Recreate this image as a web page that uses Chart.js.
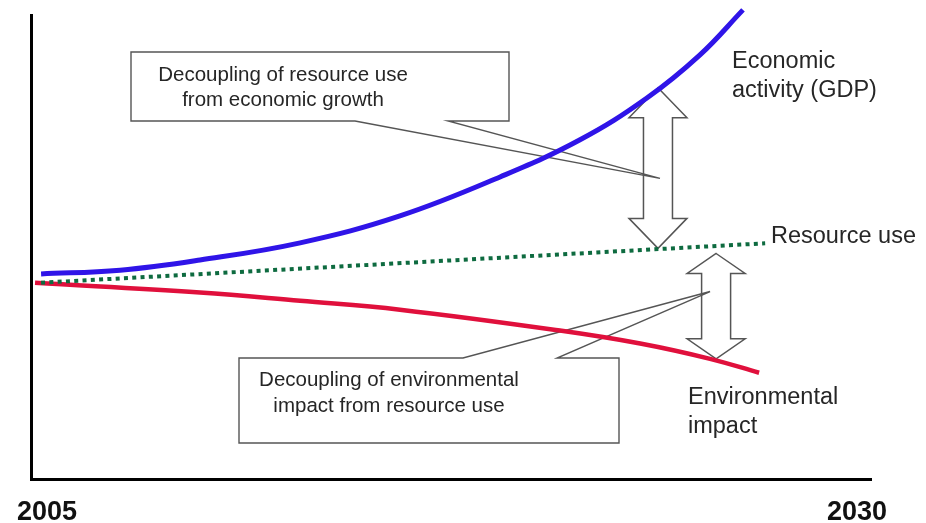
<!DOCTYPE html>
<html><head><meta charset="utf-8">
<script src="https://cdn.jsdelivr.net/npm/chart.js@4.4.1/dist/chart.umd.min.js"></script>
<style>html,body{margin:0;padding:0;background:#fff}#wrap{width:926px;height:523px;position:relative}</style>
</head><body><div id="wrap"><canvas id="c"></canvas></div>
<script>
// ---- data (x in years, y in relative index units) ----
const gdpYears = [2005.30, 2007.65, 2010.03, 2013.01, 2015.98, 2018.96, 2021.34, 2023.33, 2024.91, 2026.19];
const gdpValues = [44.2, 45.0, 47.2, 50.9, 56.7, 65.1, 73.1, 82.1, 91.4, 101.1];
const resourceYears = [2005.30, 2026.85];
const resourceValues = [42.3, 50.8];
const impactYears = [2005.12, 2010.03, 2013.01, 2015.98, 2020.74, 2023.13, 2025.21, 2026.67];
const impactValues = [42.3, 40.2, 38.4, 36.5, 32.0, 29.2, 25.9, 22.9];
const tickYears = [2005, 2030];
const tickLabels = ['2005', '2030'];
const seriesNames = ['Economic activity (GDP)', 'Resource use', 'Environmental impact'];
const calloutTexts = [
  ['Decoupling of resource use', 'from economic growth'],
  ['Decoupling of environmental', 'impact from resource use']
];

const FONT = '"Liberation Sans", Arial, sans-serif';
const toPts = (xs, ys) => xs.map((x, i) => ({x: x, y: ys[i]}));

// annotation layout (pixels for boxes/labels; data coordinates for arrows & pointer tips)
const layout = {
  arrows: [
    {year: 2023.66, top: 84.3, bottom: 49.7, head: 30},
    {year: 2025.39, top: 48.6, bottom: 25.9, head: 20}
  ],
  callouts: [
    {box: [131, 52, 509, 121], side: 'bottom', gap: [355, 448], tip: {year: 2023.72, value: 64.8},
     textX: 283, baselines: [81, 106]},
    {box: [239, 358, 619, 443], side: 'top', gap: [463, 557], tip: {year: 2025.21, value: 40.4},
     textX: 389, baselines: [386, 412]}
  ],
  labels: [
    {lines: ['Economic', 'activity (GDP)'], x: 732, baselines: [68, 97]},
    {lines: ['Resource use'], x: 771, baselines: [243]},
    {lines: ['Environmental', 'impact'], x: 688, baselines: [404, 433]}
  ]
};

const decorPlugin = {
  id: 'decor',
  beforeDatasetsDraw(chart) {
    const ctx = chart.ctx, xs = chart.scales.x, ys = chart.scales.y;
    ctx.save();
    // double arrows
    layout.arrows.forEach(a => {
      const x = xs.getPixelForValue(a.year), t = ys.getPixelForValue(a.top), b = ys.getPixelForValue(a.bottom);
      const hh = 29, sh = 14.5, hl = a.head;
      ctx.beginPath();
      ctx.moveTo(x, t);
      ctx.lineTo(x + hh, t + hl); ctx.lineTo(x + sh, t + hl);
      ctx.lineTo(x + sh, b - hl); ctx.lineTo(x + hh, b - hl);
      ctx.lineTo(x, b);
      ctx.lineTo(x - hh, b - hl); ctx.lineTo(x - sh, b - hl);
      ctx.lineTo(x - sh, t + hl); ctx.lineTo(x - hh, t + hl);
      ctx.closePath();
      ctx.fillStyle = '#fff'; ctx.fill();
      ctx.strokeStyle = '#555'; ctx.lineWidth = 1.5; ctx.lineJoin = 'miter'; ctx.stroke();
    });
    // callouts
    layout.callouts.forEach((c, i) => {
      const [l, t, r, b] = c.box;
      const tx = xs.getPixelForValue(c.tip.year), ty = ys.getPixelForValue(c.tip.value);
      ctx.fillStyle = '#fff';
      ctx.fillRect(l, t, r - l, b - t);
      ctx.beginPath();
      if (c.side === 'bottom') {
        ctx.moveTo(l, t); ctx.lineTo(r, t); ctx.lineTo(r, b); ctx.lineTo(c.gap[1], b);
        ctx.lineTo(tx, ty); ctx.lineTo(c.gap[0], b); ctx.lineTo(l, b); ctx.closePath();
      } else {
        ctx.moveTo(l, t); ctx.lineTo(c.gap[0], t); ctx.lineTo(tx, ty); ctx.lineTo(c.gap[1], t);
        ctx.lineTo(r, t); ctx.lineTo(r, b); ctx.lineTo(l, b); ctx.closePath();
      }
      ctx.strokeStyle = '#555'; ctx.lineWidth = 1.4; ctx.stroke();
      ctx.fillStyle = '#262626';
      ctx.font = '20.5px ' + FONT;
      ctx.textAlign = 'center'; ctx.textBaseline = 'alphabetic';
      calloutTexts[i].forEach((s, k) => ctx.fillText(s, c.textX, c.baselines[k]));
    });
    ctx.restore();
  },
  afterDraw(chart) {
    const ctx = chart.ctx, xs = chart.scales.x;
    ctx.save();
    ctx.fillStyle = '#262626';
    ctx.font = '23.5px ' + FONT;
    ctx.textAlign = 'left'; ctx.textBaseline = 'alphabetic';
    layout.labels.forEach(lb => lb.lines.forEach((s, k) => ctx.fillText(s, lb.x, lb.baselines[k])));
    // year tick labels
    ctx.fillStyle = '#111';
    ctx.font = 'bold 27px ' + FONT;
    tickYears.forEach((yr, i) => {
      const px = xs.getPixelForValue(yr);
      if (i === 0) { ctx.textAlign = 'left'; ctx.fillText(tickLabels[i], px - 14, 520); }
      else { ctx.textAlign = 'right'; ctx.fillText(tickLabels[i], px + 16, 520); }
    });
    ctx.restore();
  }
};

new Chart(document.getElementById('c'), {
  type: 'line',
  data: {
    datasets: [
      {label: seriesNames[0], data: toPts(gdpYears, gdpValues), borderColor: '#2f14e8', borderWidth: 5,
       tension: 0.4, pointRadius: 0, clip: false, borderCapStyle: 'butt'},
      {label: seriesNames[1], data: toPts(resourceYears, resourceValues), borderColor: '#0e6b40', borderWidth: 4,
       borderDash: [4, 4.3], pointRadius: 0, clip: false, borderCapStyle: 'butt'},
      {label: seriesNames[2], data: toPts(impactYears, impactValues), borderColor: '#e0103c', borderWidth: 4.5,
       tension: 0.4, pointRadius: 0, clip: false, borderCapStyle: 'butt'}
    ]
  },
  options: {
    responsive: true, maintainAspectRatio: false, animation: false,
    layout: {padding: {left: 31, right: 55, top: 15, bottom: 44}},
    plugins: {legend: {display: false}, tooltip: {enabled: false}},
    scales: {
      x: {type: 'linear', min: 2005, max: 2030,
          grid: {display: false, drawTicks: false}, ticks: {display: false},
          border: {display: true, color: '#000', width: 3}},
      y: {type: 'linear', min: 0, max: 100,
          grid: {display: false, drawTicks: false}, ticks: {display: false},
          border: {display: true, color: '#000', width: 3}}
    }
  },
  plugins: [decorPlugin]
});
</script>
</body></html>
